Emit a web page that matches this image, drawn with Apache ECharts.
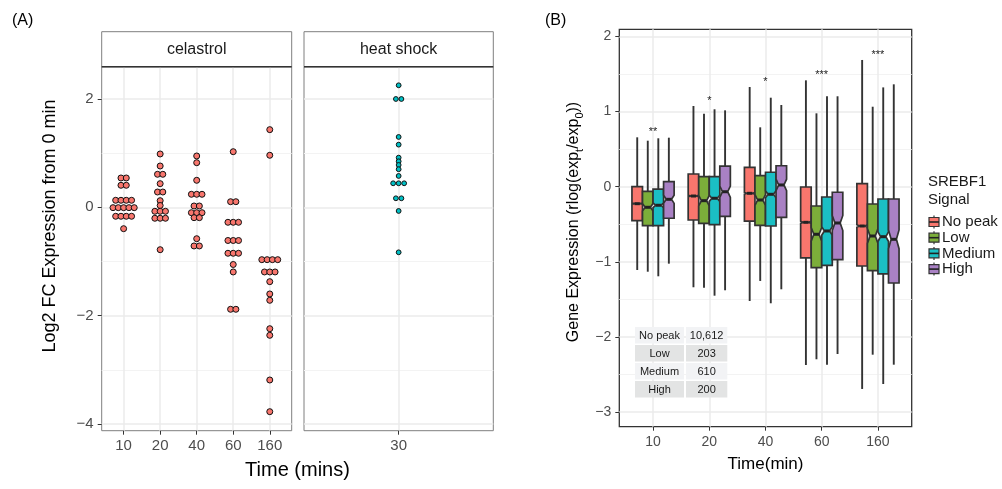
<!DOCTYPE html>
<html><head><meta charset="utf-8">
<script src="https://cdn.jsdelivr.net/npm/echarts@6/dist/echarts.min.js"></script>
<style>html,body{margin:0;padding:0;background:#fff}#c{width:1002px;height:489px}</style>
</head><body><div id="c"></div>
<script>
// ---------------- data ----------------
const celastrolTimes = ['10', '20', '40', '60', '160'];
const heatTimes = ['30'];
const cel10 = [0.541, 0.541, 0.406, 0.406, 0.129, 0.129, 0.129, 0.129, -0.007, -0.007, -0.007, -0.007, -0.007, -0.166, -0.166, -0.166, -0.166, -0.395];
const cel20 = [0.984, 0.762, 0.609, 0.609, 0.436, 0.282, 0.282, 0.122, 0.033, -0.074, -0.074, -0.074, -0.203, -0.203, -0.203, -0.783];
const cel40 = [0.947, 0.823, 0.498, 0.240, 0.240, 0.240, 0.024, 0.024, -0.100, -0.100, -0.100, -0.192, -0.192, -0.580, -0.714, -0.714];
const cel60 = [1.026, 0.103, 0.103, -0.277, -0.277, -0.277, -0.613, -0.613, -0.613, -0.849, -0.849, -0.849, -1.056, -1.194, -1.883, -1.883];
const cel160 = [1.433, 0.960, -0.967, -0.967, -0.967, -0.967, -1.194, -1.194, -1.194, -1.373, -1.600, -1.717, -2.241, -2.363, -3.188, -3.773];
const heat30 = [2.252, 1.999, 1.999, 1.298, 1.156, 0.916, 0.849, 0.781, 0.702, 0.578, 0.443, 0.443, 0.443, 0.166, 0.166, -0.068, -0.831];
const yTicksA = [-4, -2, 0, 2];
const yMinorA = [-3, -1, 1];

const timeGroups = ['10', '20', '40', '60', '160'];
const signalLevels = ['No peak', 'Low', 'Medium', 'High'];
const geneCounts = [10612, 203, 610, 200];
const countLabels = ['10,612', '203', '610', '200'];
// per time group: [lower whisker, Q1, median, Q3, upper whisker]
const boxNoPeak = [[-1.108, -0.452, -0.226, 0.000, 0.657], [-1.338, -0.443, -0.124, 0.169, 1.074], [-1.521, -0.459, -0.088, 0.258, 1.326], [-2.372, -0.948, -0.474, -0.004, 1.415], [-2.691, -1.055, -0.523, 0.040, 1.686]];
const boxLow = [[-1.131, -0.519, -0.274, -0.061, 0.612], [-1.344, -0.487, -0.186, 0.133, 0.971], [-1.254, -0.514, -0.177, 0.146, 0.790], [-2.296, -1.077, -0.633, -0.257, 0.976], [-2.235, -1.117, -0.656, -0.230, 1.064]];
const boxMedium = [[-1.192, -0.519, -0.247, -0.031, 0.644], [-1.450, -0.505, -0.154, 0.133, 1.030], [-1.551, -0.523, -0.101, 0.192, 1.184], [-2.368, -1.046, -0.589, -0.137, 1.203], [-2.625, -1.161, -0.665, -0.164, 1.321]];
const boxHigh = [[-1.024, -0.420, -0.168, 0.067, 0.652], [-1.378, -0.394, -0.067, 0.275, 1.016], [-1.365, -0.407, 0.023, 0.279, 1.087], [-2.226, -0.971, -0.483, -0.074, 1.203], [-2.368, -1.281, -0.700, -0.164, 1.362]];
const starLabels = ['**', '*', '*', '***', '***'];
const starHeights = [0.732, 1.144, 1.393, 1.486, 1.752];
const yTicksB = [-3, -2, -1, 0, 1, 2];
const yMinorB = [-2.5, -1.5, -0.5, 0.5, 1.5];

// ---------------- style ----------------
const signalColors = ['#F8766D', '#7CAE3A', '#1BBFC4', '#A981C4'];
const FONT = 'Liberation Sans, Arial, Helvetica, sans-serif';
const gridLine = '#EBEBEB';
const minorLine = '#F3F3F3';
const boxW = 0.1875;

function dotData(groups) {
  const out = [];
  groups.forEach((vals, gi) => {
    const counts = {}, seen = {};
    vals.forEach(v => { counts[v] = (counts[v] || 0) + 1; });
    vals.forEach(v => {
      seen[v] = seen[v] === undefined ? 0 : seen[v] + 1;
      out.push([gi, v, seen[v], counts[v]]);
    });
  });
  return out;
}
function dotRenderer(spacing, r, color) {
  return function (params, api) {
    const p = api.coord([api.value(0), api.value(1)]);
    const j = api.value(2), k = api.value(3);
    return { type: 'circle', shape: { cx: p[0] + (j - (k - 1) / 2) * spacing, cy: p[1], r: r },
      style: { fill: color, stroke: '#111', lineWidth: 1 } };
  };
}
function boxRenderer(li) {
  return function (params, api) {
    const g = api.value(0);
    const low = api.value(1), q1 = api.value(2), med = api.value(3), q3 = api.value(4), high = api.value(5);
    const xc = g + (li - 1.5) * boxW;
    const L = api.coord([xc - boxW / 2, med])[0], R = api.coord([xc + boxW / 2, med])[0];
    const C = (L + R) / 2, ins = (R - L) / 4;
    const notch = 1.58 * (q3 - q1) / Math.sqrt(geneCounts[li]);
    const y = v => api.coord([g, v])[1];
    const yl = y(low), y1 = y(q1), ym = y(med), y3 = y(q3), yh = y(high), ynt = y(med + notch), ynb = y(med - notch);
    const st = { stroke: '#333', lineWidth: 1.9 };
    return { type: 'group', children: [
      { type: 'line', shape: { x1: C, y1: y3, x2: C, y2: yh }, style: st },
      { type: 'line', shape: { x1: C, y1: y1, x2: C, y2: yl }, style: st },
      { type: 'polygon', shape: { points: [[L, y3], [R, y3], [R, ynt], [R - ins, ym], [R, ynb], [R, y1], [L, y1], [L, ynb], [L + ins, ym], [L, ynt]] },
        style: { fill: signalColors[li], stroke: '#333', lineWidth: 1.7 } },
      { type: 'line', shape: { x1: L + ins, y1: ym, x2: R - ins, y2: ym }, style: { stroke: '#222', lineWidth: 3 } }
    ] };
  };
}
const minus = v => String(v).replace('-', '\u2212');

const gA = { left: 101.7, top: 66.7, width: 190, height: 364 };
const gH = { left: 304, top: 66.7, width: 189.3, height: 364 };
const gB = { left: 619.3, top: 29.3, width: 292.4, height: 397.4 };

function xAx(gi, max, vals, names, fs) {
  return { type: 'value', gridIndex: gi, min: -0.6, max: max,
    axisLine: { show: false, onZero: false },
    axisTick: { show: true, inside: false, length: 4, customValues: vals, lineStyle: { color: '#333', width: 1 } },
    axisLabel: { customValues: vals, formatter: v => names[Math.round(v)], color: '#4D4D4D', fontSize: fs, fontFamily: FONT, margin: 8 },
    splitLine: { show: true, lineStyle: { color: gridLine, width: 1.5 } } };
}
function yAx(gi, min, max, vals, labels, fs) {
  return { type: 'value', gridIndex: gi, min: min, max: max, position: 'left',
    axisLine: { show: false, onZero: false },
    axisTick: { show: labels, inside: false, length: 4, customValues: vals, lineStyle: { color: '#333', width: 1 } },
    axisLabel: { show: labels, customValues: vals, formatter: minus, color: '#4D4D4D', fontSize: fs, fontFamily: FONT, margin: 8 },
    splitLine: { show: true, lineStyle: { color: gridLine, width: 1.5 } } };
}
function yMinor(gi, min, max, vals) {
  return { type: 'value', gridIndex: gi, min: min, max: max, position: 'left',
    axisLine: { show: false, onZero: false }, axisTick: { show: false, customValues: vals },
    axisLabel: { show: false, customValues: vals },
    splitLine: { show: true, lineStyle: { color: minorLine, width: 1 } } };
}

const gfx = [];
function txt(x, y, s, fs, extra) {
  gfx.push(Object.assign({ type: 'text', x: x, y: y, z: 100,
    style: Object.assign({ text: s, fontSize: fs, fontFamily: FONT, fill: '#1A1A1A', align: 'center', verticalAlign: 'middle' }, extra && extra.style) },
    extra && extra.el));
}
// strips
[[gA, 'celastrol'], [gH, 'heat shock']].forEach(([g, s]) => {
  gfx.push({ type: 'rect', shape: { x: g.left, y: 31.7, width: g.width, height: g.top - 31.7 }, style: { fill: '#fff', stroke: '#7F7F7F', lineWidth: 1 } });
  gfx.push({ type: 'line', shape: { x1: g.left, y1: g.top, x2: g.left + g.width, y2: g.top }, style: { stroke: '#333', lineWidth: 1.5 }, z: 50 });
  txt(g.left + g.width / 2, 49.5, s, 16);
});
txt(12, 21, '(A)', 16, { style: { align: 'left', fill: '#000' } });
txt(545, 21, '(B)', 16, { style: { align: 'left', fill: '#000' } });
txt(50, 226, 'Log2 FC Expression from 0 min', 18, { el: { rotation: Math.PI / 2 }, style: { fill: '#000' } });
txt(297.5, 470, 'Time (mins)', 20, { style: { fill: '#000' } });
txt(765.5, 464, 'Time(min)', 17, { style: { fill: '#000' } });
gfx.push({ type: 'text', x: 574, y: 222, rotation: Math.PI / 2, z: 100,
  style: { text: 'Gene Expression (rlog(exp{s|t}/exp{s|0}))', fontSize: 16, lineHeight: 23, fontFamily: FONT, fill: '#000', align: 'center', verticalAlign: 'middle',
    rich: { s: { fontSize: 11, lineHeight: 11, verticalAlign: 'bottom', fontFamily: FONT, fill: '#000' } } } });
// table
signalLevels.forEach((lv, i) => {
  const y0 = 327 + i * 18;
  const fill = i % 2 === 0 ? '#F2F3F5' : '#E3E4E4';
  gfx.push({ type: 'rect', shape: { x: 635, y: y0, width: 49, height: 16.5 }, style: { fill: fill }, z: 90 });
  gfx.push({ type: 'rect', shape: { x: 686, y: y0, width: 41.3, height: 16.5 }, style: { fill: fill }, z: 90 });
  txt(659.5, y0 + 8.5, lv, 11);
  txt(706.6, y0 + 8.5, countLabels[i], 11);
});
// legend
txt(928, 182, 'SREBF1', 15, { style: { align: 'left' } });
txt(928, 200, 'Signal', 15, { style: { align: 'left' } });
signalLevels.forEach((lv, i) => {
  const cy = 222 + i * 15.7;
  gfx.push({ type: 'line', shape: { x1: 934, y1: cy - 6.5, x2: 934, y2: cy + 6.5 }, style: { stroke: '#333', lineWidth: 1.2 }, z: 100 });
  gfx.push({ type: 'rect', shape: { x: 929, y: cy - 4.5, width: 10, height: 9 }, style: { fill: signalColors[i], stroke: '#333', lineWidth: 1.2 }, z: 101 });
  gfx.push({ type: 'line', shape: { x1: 929, y1: cy, x2: 939, y2: cy }, style: { stroke: '#222', lineWidth: 1.6 }, z: 102 });
  txt(942, cy, lv, 15, { style: { align: 'left' } });
});

const gridStyle = { show: true, backgroundColor: '#fff', containLabel: false };
const option = {
  animation: false,
  backgroundColor: '#fff',
  grid: [Object.assign({}, gA, gridStyle, { borderColor: '#7F7F7F', borderWidth: 1 }),
         Object.assign({}, gH, gridStyle, { borderColor: '#7F7F7F', borderWidth: 1 }),
         Object.assign({}, gB, gridStyle, { borderColor: '#333', borderWidth: 1.3 })],
  xAxis: [xAx(0, 4.6, [0, 1, 2, 3, 4], celastrolTimes, 15),
          xAx(1, 0.6, [0], heatTimes, 15),
          xAx(2, 4.6, [0, 1, 2, 3, 4], timeGroups, 14)],
  yAxis: [yAx(0, -4.124, 2.595, yTicksA, true, 15), yMinor(0, -4.124, 2.595, yMinorA),
          yAx(1, -4.124, 2.595, yTicksA, false, 15), yMinor(1, -4.124, 2.595, yMinorA),
          yAx(2, -3.193, 2.094, yTicksB, true, 14), yMinor(2, -3.193, 2.094, yMinorB)],
  graphic: gfx,
  series: [
    { type: 'custom', xAxisIndex: 0, yAxisIndex: 0, clip: false, encode: { x: 0, y: 1 },
      data: dotData([cel10, cel20, cel40, cel60, cel160]), renderItem: dotRenderer(5.3, 3, '#F8766D') },
    { type: 'custom', xAxisIndex: 1, yAxisIndex: 2, clip: false, encode: { x: 0, y: 1 },
      data: dotData([heat30]), renderItem: dotRenderer(5.5, 2.4, '#00BFC4') }
  ].concat([boxNoPeak, boxLow, boxMedium, boxHigh].map((arr, li) => ({
      type: 'custom', name: signalLevels[li], xAxisIndex: 2, yAxisIndex: 4, clip: false,
      encode: { x: 0, y: [1, 2, 3, 4, 5] },
      data: arr.map((b, g) => [g].concat(b)), renderItem: boxRenderer(li) })))
   .concat([{ type: 'custom', xAxisIndex: 2, yAxisIndex: 4, clip: false, encode: { x: 0, y: 1 },
      data: starHeights.map((h, g) => [g, h]),
      renderItem: (params, api) => {
        const p = api.coord([api.value(0), api.value(1)]);
        return { type: 'text', x: p[0], y: p[1], style: { text: starLabels[params.dataIndex], fontSize: 11, fontFamily: FONT, fill: '#222', align: 'center', verticalAlign: 'middle' } };
      } }])
};
echarts.init(document.getElementById('c')).setOption(option);
</script></body></html>
